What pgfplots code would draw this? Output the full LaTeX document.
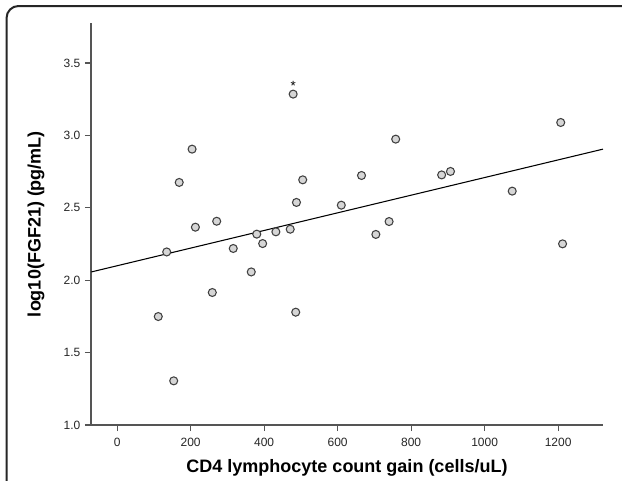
\documentclass[border=0pt]{standalone}
\usepackage{pgfplots}
\pgfplotsset{compat=1.18}
\usepackage{fontspec}
\setmainfont{Liberation Sans}
\definecolor{axgray}{HTML}{555555}
\definecolor{mkfill}{HTML}{D6D6D6}
\begin{document}
\begin{tikzpicture}
\useasboundingbox (0,0) rectangle (466.5pt,360pt);
\clip (0,0) rectangle (466.5pt,360pt);
\fill[white] (0,0) rectangle (466.5pt,360pt);
\draw[line width=1.5pt, color=black!85, rounded corners=9pt] (4.9pt,-30pt) rectangle (500pt,355.5pt);
\begin{axis}[
  at={(68.25pt,41.25pt)}, anchor=south west,
  scale only axis, width=384pt, height=301.5pt,
  xmin=-71, xmax=1322, ymin=1.0, ymax=3.776,
  axis x line=bottom, axis y line=left,
  axis line style={-, color=axgray, line width=0.8pt},
  tick style={color=axgray, line width=0.8pt},
  tick align=outside, major tick length=4.5pt,
  xtick={0,200,...,1200}, ytick={1.0,1.5,...,3.5},
  minor tick num=0,
  /pgf/number format/assume math mode=true,
  yticklabel style={/pgf/number format/fixed, /pgf/number format/fixed zerofill, /pgf/number format/precision=1},
  xticklabel style={/pgf/number format/1000 sep={}, yshift=-1.5pt},
  tick label style={font=\fontsize{9pt}{10pt}\selectfont, color=black!85},
  xlabel={CD4 lymphocyte count gain (cells/uL)},
  ylabel={log10(FGF21) (pg/mL)},
  label style={font=\bfseries\fontsize{13.5pt}{15pt}\selectfont},
  xlabel style={at={(axis description cs:0.5,-0.107)}, anchor=center},
  ylabel style={at={(axis description cs:-0.1075,0.5)}, anchor=center},
  clip=false,
]
\addplot[black, line width=0.8pt] coordinates {(-70,2.057) (1322,2.905)};
\addplot[only marks, mark=*, mark size=3pt, mark options={fill=mkfill, draw=black!75, line width=0.8pt}] coordinates {
(112,1.749) (135,2.195) (154,1.305) (169,2.675) (204,2.905) (213,2.366)
(259,1.915) (271,2.407) (316,2.219) (365,2.057) (380,2.318) (396,2.253)
(432,2.334) (471,2.352) (479,3.285) (486,1.779) (488,2.537) (505,2.693)
(610,2.518) (665,2.723) (704,2.316) (740,2.405) (758,2.974) (883,2.727)
(907,2.751) (1075,2.615) (1207,3.089) (1212,2.251)
};
\node[font=\fontsize{10pt}{11pt}\selectfont, inner sep=0pt] at (axis cs:479,3.345) {*};
\end{axis}
\end{tikzpicture}
\end{document}
